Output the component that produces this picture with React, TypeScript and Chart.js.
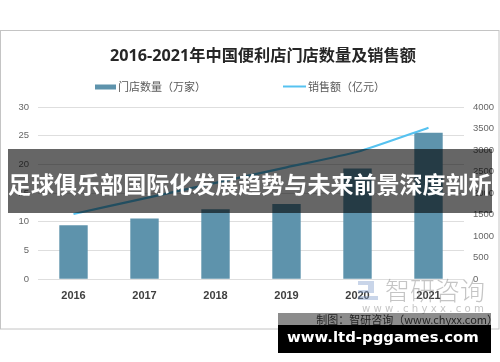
import React, { useEffect, useRef } from "react";
import { Chart, registerables } from "chart.js";

Chart.register(...registerables);

const categories = ["2016", "2017", "2018", "2019", "2020", "2021"];
const storeCounts = [9.4, 10.6, 12.2, 13.1, 19.3, 25.5];
const salesValues = [1517, 1880, 2240, 2600, 2960, 3520];
const leftMax = 30;
const leftStep = 5;
const rightMax = 4000;
const rightStep = 500;

const titleText = "2016-2021年中国便利店门店数量及销售额";
const barLabel = "门店数量（万家）";
const lineLabel = "销售额（亿元）";
const bannerText = "足球俱乐部国际化发展趋势与未来前景深度剖析";
const siteText = "www.ltd-pggames.com";
const sourceText = "制图：智研咨询（www.chyxx.com）";
const watermarkText = "智研咨询";
const watermarkUrl = "w w w . c h y x x . c o m";

const BAR_COLOR = "#5E93AC";
const LINE_COLOR = "#56C2F0";
const CJK = "'Noto Sans CJK SC', 'Noto Sans', sans-serif";

function fitFont(ctx: CanvasRenderingContext2D, text: string, weight: string, family: string, target: number) {
  ctx.font = `${weight} 20px ${family}`;
  const w = ctx.measureText(text).width;
  const size = (20 * target) / w;
  ctx.font = `${weight} ${size}px ${family}`;
  return size;
}

const decor = {
  id: "decor",
  beforeDraw(chart: any) {
    const ctx: CanvasRenderingContext2D = chart.ctx;
    ctx.save();
    ctx.fillStyle = "#ffffff";
    ctx.fillRect(0, 0, chart.width, chart.height);
    // frame
    ctx.strokeStyle = "#c4c4c4";
    ctx.lineWidth = 1;
    ctx.strokeRect(0.5, 30.5, 498.5, 298.5);
    // title
    fitFont(ctx, titleText, "bold", "'Open Sans', " + CJK, 306);
    ctx.fillStyle = "#262626";
    ctx.textAlign = "left";
    ctx.textBaseline = "middle";
    ctx.fillText(titleText, 110, 56);
    // legend
    ctx.fillStyle = BAR_COLOR;
    ctx.fillRect(95, 84.5, 21, 5);
    ctx.font = `11px ${CJK}`;
    ctx.fillStyle = "#595959";
    ctx.fillText(barLabel, 118, 87);
    ctx.strokeStyle = LINE_COLOR;
    ctx.lineWidth = 2;
    ctx.beginPath();
    ctx.moveTo(283, 86.5);
    ctx.lineTo(306, 86.5);
    ctx.stroke();
    ctx.fillText(lineLabel, 308, 87);
    ctx.restore();
  },
  afterDraw(chart: any) {
    const ctx: CanvasRenderingContext2D = chart.ctx;
    ctx.save();
    // watermark logo
    ctx.fillStyle = "rgba(120,150,200,0.4)";
    ctx.fillRect(358, 281, 16, 4);
    ctx.fillRect(368, 285, 6, 5);
    ctx.fillRect(358, 290, 16, 3);
    ctx.fillRect(358, 296, 20, 4);
    ctx.fillStyle = "rgba(140,140,140,0.5)";
    ctx.textBaseline = "middle";
    ctx.textAlign = "left";
    fitFont(ctx, watermarkText, "300", CJK, 100);
    ctx.fillText(watermarkText, 385, 290);
    ctx.fillStyle = "rgba(150,150,150,0.55)";
    fitFont(ctx, watermarkUrl, "normal", "'DejaVu Sans', sans-serif", 122);
    ctx.fillText(watermarkUrl, 362, 309);
    // source text
    ctx.fillStyle = "#404040";
    ctx.textAlign = "right";
    ctx.font = `11px ${CJK}`;
    ctx.fillText(sourceText, 498, 320);
    // banner
    ctx.fillStyle = "rgba(0,0,0,0.6)";
    ctx.fillRect(8, 149, 484, 64);
    ctx.fillStyle = "#ffffff";
    ctx.textAlign = "left";
    fitFont(ctx, bannerText, "bold", CJK, 484);
    ctx.fillText(bannerText, 8, 184);
    // bottom box
    ctx.fillStyle = "rgba(0,0,0,0.45)";
    ctx.fillRect(278, 313, 213, 12);
    ctx.fillStyle = "#000000";
    ctx.fillRect(278, 325, 213, 28);
    ctx.fillStyle = "#ffffff";
    fitFont(ctx, siteText, "bold", "'DejaVu Sans', sans-serif", 192);
    ctx.fillText(siteText, 287, 338);
    ctx.restore();
  },
};

const plainTick = (v: any) => String(v);

export default function App() {
  const ref = useRef<HTMLCanvasElement | null>(null);
  useEffect(() => {
    if (!ref.current) return;
    const chart = new Chart(ref.current, {
      type: "bar",
      data: {
        labels: categories,
        datasets: [
          {
            type: "line",
            label: lineLabel,
            data: salesValues,
            yAxisID: "y1",
            borderColor: LINE_COLOR,
            backgroundColor: LINE_COLOR,
            borderWidth: 2.2,
            pointRadius: 0,
            tension: 0.2,
            order: 0,
          } as any,
          {
            type: "bar",
            label: barLabel,
            data: storeCounts,
            yAxisID: "y",
            backgroundColor: BAR_COLOR,
            categoryPercentage: 1,
            barPercentage: 0.4,
            order: 1,
          },
        ],
      },
      options: {
        responsive: false,
        animation: false,
        events: [],
        layout: { padding: { top: 107, left: 0, right: 0, bottom: 0 } },
        plugins: { legend: { display: false }, title: { display: false }, tooltip: { enabled: false } },
        scales: {
          x: {
            grid: { display: false, drawTicks: false },
            border: { display: false },
            ticks: {
              padding: 10,
              color: "#404040",
              font: { family: "'Liberation Sans', sans-serif", size: 11, weight: "bold" },
            },
            afterFit: (s: any) => {
              s.height = 82.7;
            },
          },
          y: {
            position: "left",
            min: 0,
            max: leftMax,
            ticks: {
              stepSize: leftStep,
              padding: 9,
              color: "#666666",
              font: { family: "'Liberation Sans', sans-serif", size: 9.5 },
              callback: plainTick,
            },
            grid: { color: "#dedede", lineWidth: 1, drawTicks: false },
            border: { display: false },
            afterFit: (s: any) => {
              s.width = 38;
            },
          },
          y1: {
            position: "right",
            min: 0,
            max: rightMax,
            ticks: {
              stepSize: rightStep,
              padding: 9,
              color: "#666666",
              font: { family: "'Liberation Sans', sans-serif", size: 9.5 },
              callback: plainTick,
            },
            grid: { display: false, drawTicks: false },
            border: { display: false },
            afterFit: (s: any) => {
              s.width = 36;
            },
          },
        },
      } as any,
      plugins: [decor],
    });
    return () => chart.destroy();
  }, []);
  return (
    <div style={{ position: "absolute", left: 0, top: 0, width: 500, height: 362 }}>
      <canvas ref={ref} width={500} height={362} style={{ width: 500, height: 362, display: "block" }} />
    </div>
  );
}
